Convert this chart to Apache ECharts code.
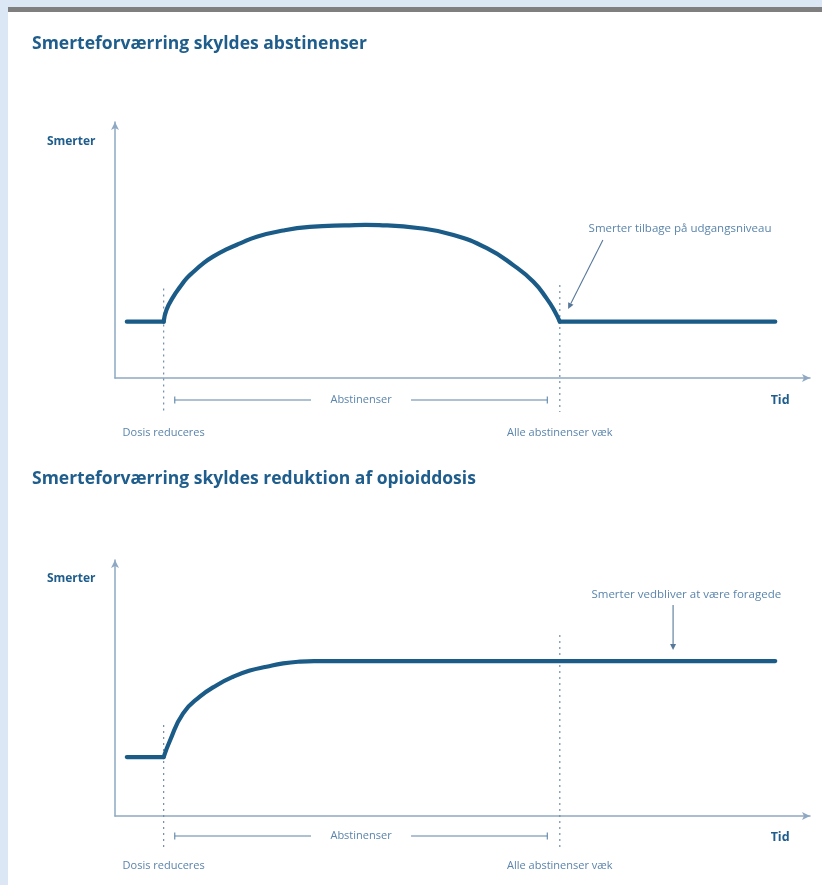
<!DOCTYPE html>
<html><head><meta charset="utf-8">
<script src="https://cdn.jsdelivr.net/npm/echarts/dist/echarts.min.js"></script>
<style>
html,body{margin:0;padding:0;width:822px;height:885px;background:#dbe7f4;overflow:hidden}
#bar{position:absolute;left:8px;top:7px;width:814px;height:5px;background:#7f7f7f}
#panel{position:absolute;left:8px;top:12px;width:814px;height:873px;background:#ffffff}
#chart{position:absolute;left:0;top:0;width:822px;height:885px}
</style></head><body>
<div id="bar"></div><div id="panel"></div><div id="chart"></div>
<script>
// ---------- data ----------
const titles = ['Smerteforværring skyldes abstinenser', 'Smerteforværring skyldes reduktion af opioiddosis'];
const yAxisName = 'Smerter';
const xAxisName = 'Tid';
const periodName = 'Abstinenser';
const eventNames = ['Dosis reduceres', 'Alle abstinenser væk'];
const eventTimes = [7, 64];
const notes = ['Smerter tilbage på udgangsniveau', 'Smerter vedbliver at være foragede'];
const startTime = 1.7;
const endTime = 95;
// chart 1: pain (0-100) over time (0-100)
const baseline1 = 22;
const curve1 = [[7,22],[7.4,26.6],[8.4,31.8],[9.4,35.7],[10.3,38.9],[11.3,41.5],[12.7,44.8],[14.1,47.4],[16.1,50.3],[18,52.6],[20.4,55.2],[24.2,57.6],[28,59],[33,59.6],[38,59.7],[43.9,58.5],[48.7,55.9],[53.5,50.7],[57.3,44.1],[60.2,37.6],[62.1,31.1],[63.3,25.9],[64,22]];
// chart 2
const baseline2 = 23;
const curve2 = [[7,23],[7.9,29.4],[9.8,40.1],[12.2,46.6],[14.7,51.2],[17,54.4],[19.4,56.8],[21.8,58.3],[24.2,59.6],[26.6,60.3],[29,60.5],[95,60.5]];

// ---------- style ----------
const lineColor = '#1b5b87';
const axisColor = '#8ea8c2';
const guideColor = '#6f8fae';
const textLight = '#5a84ab';
const textDark = '#1e5d8c';
const FONT = '"Open Sans", "DejaVu Sans", sans-serif';
const styles = {
  light: {color: textLight, font: '11px ' + FONT},
  note: {color: textLight, font: '11.5px ' + FONT},
  bold: {color: textDark, font: 'bold 12px ' + FONT},
  tid: {color: textDark, font: 'bold 12.5px ' + FONT}
};

function textSeries(gi, items) {
  return {
    type: 'custom', xAxisIndex: gi, yAxisIndex: gi, silent: true, z: 5,
    data: items.map(it => [it.x, it.y]),
    renderItem: function (params, api) {
      const it = items[params.dataIndex];
      const p = api.coord([api.value(0), api.value(1)]);
      const st = styles[it.style];
      return {type: 'text', x: p[0], y: p[1], style: {
        text: it.text, fill: st.color, font: st.font,
        align: 'center', verticalAlign: 'middle', textAlign: 'center', textVerticalAlign: 'middle'}};
    }
  };
}
function guideSeries(gi, tops) {
  return {
    type: 'custom', xAxisIndex: gi, yAxisIndex: gi, silent: true, z: 1,
    data: eventTimes.map((t, i) => [t, tops[i], -13.3]),
    renderItem: function (params, api) {
      const a = api.coord([api.value(0), api.value(1)]);
      const b = api.coord([api.value(0), api.value(2)]);
      return {type: 'line', shape: {x1: a[0], y1: a[1], x2: b[0], y2: b[1]},
        style: {stroke: guideColor, lineWidth: 1.2, lineDash: [2, 4]}};
    }
  };
}
function rangeSeries(gi, y) {
  return {
    type: 'custom', xAxisIndex: gi, yAxisIndex: gi, silent: true, z: 2,
    data: [[eventTimes[0] + 1.6, eventTimes[1] - 1.8, y]],
    renderItem: function (params, api) {
      const a = api.coord([api.value(0), api.value(2)]);
      const b = api.coord([api.value(1), api.value(2)]);
      const mid = (a[0] + b[0]) / 2, gap = 50, cap = 3.5;
      const st = {stroke: '#5c84a8', lineWidth: 1.1};
      return {type: 'group', children: [
        {type: 'line', shape: {x1: a[0], y1: a[1], x2: mid - gap, y2: a[1]}, style: st},
        {type: 'line', shape: {x1: mid + gap, y1: a[1], x2: b[0], y2: b[1]}, style: st},
        {type: 'line', shape: {x1: a[0], y1: a[1] - cap, x2: a[0], y2: a[1] + cap}, style: st},
        {type: 'line', shape: {x1: b[0], y1: b[1] - cap, x2: b[0], y2: b[1] + cap}, style: st}
      ]};
    }
  };
}
function arrowSeries(gi, seg) {
  return {
    type: 'custom', xAxisIndex: gi, yAxisIndex: gi, silent: true, z: 3,
    data: [seg],
    renderItem: function (params, api) {
      const a = api.coord([api.value(0), api.value(1)]);
      const b = api.coord([api.value(2), api.value(3)]);
      const dx = b[0] - a[0], dy = b[1] - a[1], L = Math.hypot(dx, dy);
      const ux = dx / L, uy = dy / L, hl = 6, hw = 3;
      const bx = b[0] - ux * hl, by = b[1] - uy * hl;
      return {type: 'group', children: [
        {type: 'line', shape: {x1: a[0], y1: a[1], x2: bx, y2: by}, style: {stroke: '#58789a', lineWidth: 1.1}},
        {type: 'polygon', shape: {points: [[b[0], b[1]], [bx - uy * hw, by + ux * hw], [bx + uy * hw, by - ux * hw]]}, style: {fill: '#58789a'}}
      ]};
    }
  };
}
// pain curve: straight baseline before dose change, smooth curve, optional straight tail
function curveSeries(gi, base, curve, tailEnd) {
  return {
    type: 'custom', xAxisIndex: gi, yAxisIndex: gi, silent: true, z: 4,
    data: curve,
    renderItem: function (params, api) {
      if (params.dataIndex !== 0) return null;
      const st = {stroke: lineColor, lineWidth: 4.2, fill: null, lineJoin: 'round', lineCap: 'round'};
      const children = [
        {type: 'polyline', shape: {points: curve.map(p => api.coord(p)), smooth: 0.5, smoothConstraint: false}, style: st},
        {type: 'polyline', shape: {points: [api.coord([startTime, base]), api.coord([eventTimes[0], base])]}, style: st}
      ];
      if (tailEnd) children.push({type: 'polyline', shape: {points: [api.coord([eventTimes[1], base]), api.coord([tailEnd, base])]}, style: st});
      return {type: 'group', children: children};
    }
  };
}

const axisBase = {
  type: 'value', min: 0, max: 100,
  axisLine: {show: true, lineStyle: {color: axisColor, width: 1.5}, symbol: ['none', 'arrow'], symbolSize: [6, 8]},
  axisTick: {show: false}, axisLabel: {show: false}, splitLine: {show: false}
};

const chart = echarts.init(document.getElementById('chart'), null, {renderer: 'canvas'});
const periodMid = (eventTimes[0] + 1.6 + eventTimes[1] - 1.8) / 2;
const titleStyle = {color: textDark, fontSize: 17.5, fontWeight: 'bold', fontFamily: FONT};
chart.setOption({
  animation: false,
  backgroundColor: 'transparent',
  title: [
    {text: titles[0], left: 32, top: 35, padding: 0, textStyle: titleStyle},
    {text: titles[1], left: 32, top: 470, padding: 0, textStyle: titleStyle}
  ],
  grid: [
    {left: 115, top: 122, width: 695, height: 256},
    {left: 115, top: 560, width: 695, height: 256}
  ],
  xAxis: [Object.assign({gridIndex: 0}, axisBase), Object.assign({gridIndex: 1}, axisBase)],
  yAxis: [Object.assign({gridIndex: 0}, axisBase), Object.assign({gridIndex: 1}, axisBase)],
  series: [
    guideSeries(0, [35, 36.3]),
    guideSeries(1, [35.5, 70.7]),
    curveSeries(0, baseline1, curve1, endTime),
    curveSeries(1, baseline2, curve2, null),
    rangeSeries(0, -8.6),
    rangeSeries(1, -7.8),
    arrowSeries(0, [70.2, 53.9, 65.2, 27]),
    arrowSeries(1, [80.3, 82.4, 80.3, 64.8]),
    textSeries(0, [
      {x: -6.3, y: 92.2, text: yAxisName, style: 'bold'},
      {x: 95.7, y: -8.6, text: xAxisName, style: 'tid'},
      {x: periodMid, y: -8.6, text: periodName, style: 'light'},
      {x: eventTimes[0], y: -21.3, text: eventNames[0], style: 'light'},
      {x: eventTimes[1], y: -21.3, text: eventNames[1], style: 'light'},
      {x: 81.3, y: 58.2, text: notes[0], style: 'note'}
    ]),
    textSeries(1, [
      {x: -6.3, y: 92.6, text: yAxisName, style: 'bold'},
      {x: 95.7, y: -8.2, text: xAxisName, style: 'tid'},
      {x: periodMid, y: -7.8, text: periodName, style: 'light'},
      {x: eventTimes[0], y: -19.5, text: eventNames[0], style: 'light'},
      {x: eventTimes[1], y: -19.5, text: eventNames[1], style: 'light'},
      {x: 82.2, y: 86.3, text: notes[1], style: 'note'}
    ])
  ]
});
</script>
</body></html>
